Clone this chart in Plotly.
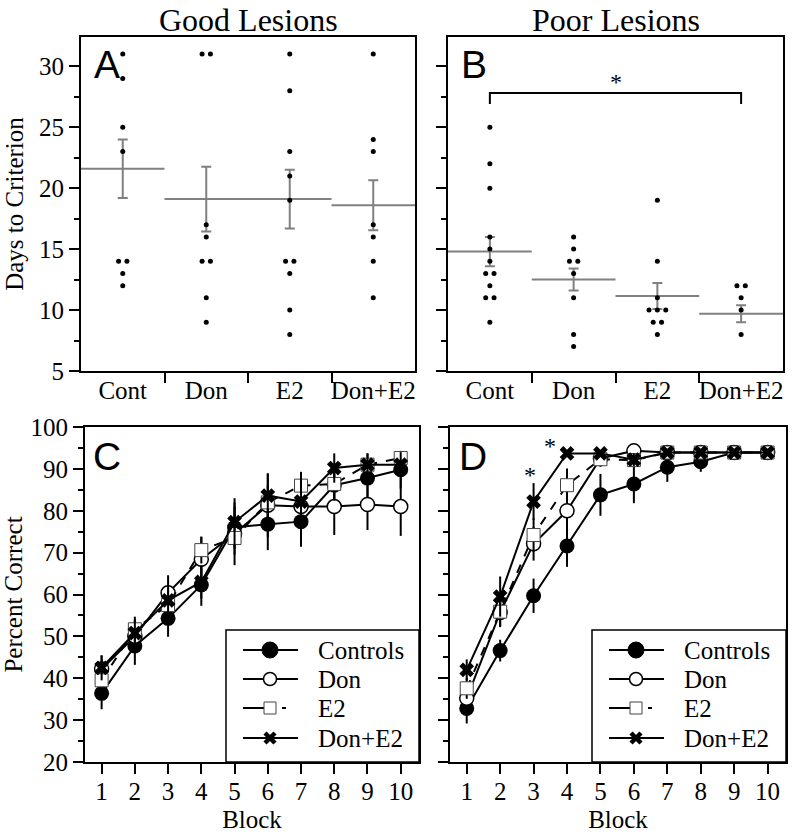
import plotly.graph_objects as go
from collections import Counter

# ---------------- data ----------------
groups = ["Cont", "Don", "E2", "Don+E2"]

good_cont = [31, 29, 25, 23, 14, 14, 13, 12]
good_don = [31, 31, 17, 16, 14, 14, 11, 9]
good_e2 = [31, 28, 23, 21, 19, 14, 14, 13, 10, 8]
good_done2 = [31, 24, 23, 17, 16, 14, 11]
good_mean = [21.6, 19.1, 19.1, 18.6]
good_sem = [2.4, 2.65, 2.4, 2.05]

poor_cont = [25, 22, 20, 16, 15, 14, 13, 13, 12, 11, 11, 9]
poor_don = [16, 15, 14, 14, 13, 11, 8, 7]
poor_e2 = [19, 14, 11, 10, 10, 10, 9, 9, 8]
poor_done2 = [12, 12, 11, 10, 8]
poor_mean = [14.8, 12.5, 11.15, 9.7]
poor_sem = [1.2, 0.9, 1.07, 0.7]

blocks = list(range(1, 11))
series_names = ["Controls", "Don", "E2", "Don+E2"]

c_ctrl = [36.4, 47.7, 54.3, 62.3, 76.0, 76.8, 77.4, 86.1, 87.8, 89.8]
c_ctrl_err = [3.8, 4.5, 4.4, 5.0, 5.0, 6.2, 6.0, 4.5, 4.5, 4.5]
c_don = [42.2, 50.0, 60.4, 68.4, 74.5, 81.3, 81.0, 81.0, 81.5, 81.0]
c_don_err = [3.2, 4.0, 4.2, 5.4, 7.5, 7.6, 6.2, 6.8, 6.1, 7.0]
c_e2 = [39.5, 51.7, 57.5, 70.6, 73.5, 82.0, 86.0, 86.4, 91.0, 92.6]
c_e2_err = [3.0, 3.0, 3.5, 3.2, 4.0, 4.0, 3.3, 4.0, 2.7, 1.5]
c_de = [42.5, 50.8, 58.6, 63.0, 77.3, 83.6, 82.2, 90.2, 91.0, 91.0]
c_de_err = [3.0, 3.0, 3.5, 4.0, 5.7, 5.3, 7.0, 3.5, 2.7, 3.0]

d_ctrl = [32.8, 46.6, 59.7, 71.6, 83.8, 86.4, 90.4, 91.7, 93.9, 93.9]
d_ctrl_err = [3.6, 2.6, 4.1, 5.0, 5.0, 4.6, 3.5, 2.4, 0.5, 0.5]
d_don = [35.2, 55.7, 72.1, 80.0, 92.5, 94.3, 93.9, 93.9, 93.9, 93.9]
d_don_err = [2.5, 3.5, 4.0, 5.5, 2.0, 1.0, 0.5, 0.5, 0.5, 0.5]
d_e2 = [37.6, 55.9, 74.2, 86.1, 92.3, 92.1, 93.9, 93.9, 93.9, 93.9]
d_e2_err = [2.5, 3.5, 4.0, 4.0, 1.5, 1.5, 0.5, 0.5, 0.5, 0.5]
d_de = [42.0, 59.5, 82.2, 93.7, 93.7, 92.2, 93.9, 93.9, 93.9, 93.9]
d_de_err = [2.5, 4.8, 4.4, 0.5, 0.5, 1.5, 0.3, 0.3, 0.3, 0.3]

# ---------------- page geometry ----------------
SERIF = "Liberation Serif"
SANS = "Liberation Sans"
GRAY = "#808080"
FW, FH = 800, 838


def px_x(p):
    return p / FW


def px_y(p):
    return 1 - p / FH


fig = go.Figure()


def jitter(idx, vals, step=0.1):
    totals = Counter(vals)
    seen = {}
    xs = []
    for v in vals:
        k = seen.get(v, 0)
        seen[v] = k + 1
        xs.append(idx + 1 + (k - (totals[v] - 1) / 2) * step)
    return xs


def add_scatter_panel(data_lists, means, sems, xa, ya):
    for i, vals in enumerate(data_lists):
        fig.add_trace(go.Scatter(
            x=[i + 0.5, i + 1.5], y=[means[i], means[i]], mode="lines",
            line=dict(color=GRAY, width=2), showlegend=False,
            xaxis=xa, yaxis=ya, hoverinfo="skip"))
    fig.add_trace(go.Scatter(
        x=[i + 1 for i in range(len(means))], y=means, mode="markers",
        marker=dict(color=GRAY, size=1),
        error_y=dict(type="data", array=sems, color=GRAY, thickness=2, width=5),
        showlegend=False, xaxis=xa, yaxis=ya, hoverinfo="skip"))
    for i, vals in enumerate(data_lists):
        fig.add_trace(go.Scatter(
            x=jitter(i, vals), y=vals, mode="markers",
            marker=dict(color="black", size=5), showlegend=False,
            xaxis=xa, yaxis=ya, hoverinfo="skip"))


add_scatter_panel([good_cont, good_don, good_e2, good_done2], good_mean, good_sem, "x", "y")
add_scatter_panel([poor_cont, poor_don, poor_e2, poor_done2], poor_mean, poor_sem, "x2", "y2")

styles = [
    dict(marker=dict(symbol="circle", size=15, color="black", line=dict(width=0)),
         line=dict(color="black", width=2)),
    dict(marker=dict(symbol="circle", size=14, color="white", line=dict(color="black", width=1.5)),
         line=dict(color="black", width=2)),
    dict(marker=dict(symbol="square", size=13, color="white", line=dict(color="#444444", width=1)),
         line=dict(color="black", width=2, dash="dash")),
    dict(marker=dict(symbol="x", size=13, color="black", line=dict(width=0)),
         line=dict(color="black", width=2)),
]


def add_line_panel(vals_list, err_list, xa, ya):
    for k in range(4):
        fig.add_trace(go.Scatter(
            x=blocks, y=vals_list[k], mode="lines+markers", name=series_names[k],
            marker=styles[k]["marker"], line=styles[k]["line"],
            error_y=dict(type="data", array=err_list[k], color="black", thickness=2, width=0),
            xaxis=xa, yaxis=ya, showlegend=False, hoverinfo="skip"))


add_line_panel([c_ctrl, c_don, c_e2, c_de], [c_ctrl_err, c_don_err, c_e2_err, c_de_err],
               "x3", "y3")
add_line_panel([d_ctrl, d_don, d_e2, d_de], [d_ctrl_err, d_don_err, d_e2_err, d_de_err],
               "x4", "y4")

# ---------------- axes ----------------
axis_common = dict(showline=True, linecolor="black", linewidth=2, mirror=True,
                   showgrid=False, zeroline=False, ticks="outside", tickcolor="black",
                   tickwidth=2, ticklen=10, automargin=False,
                   tickfont=dict(family=SERIF, size=25, color="black"))


def ax(**kw):
    d = dict(axis_common)
    d.update(kw)
    return d


domA = [px_x(81), px_x(415)]
domB = [px_x(448), px_x(783)]
domC = [px_x(85), px_x(419)]
domD = [px_x(450), px_x(786)]
domTop = [px_y(371), px_y(37)]
domBot = [px_y(762), px_y(427)]

cat_x = dict(range=[0.5, 4.5], tickmode="array", tickvals=[1, 2, 3, 4], ticktext=groups,
             ticks="", ticklabelstandoff=-4,
             minor=dict(tickmode="array", tickvals=[1.5, 2.5, 3.5], ticks="outside",
                        ticklen=10, tickwidth=2, tickcolor="black"))
days_y = dict(range=[5, 32.4], tickmode="linear", tick0=5, dtick=5,
              minor=dict(tick0=5, dtick=2.5, ticks="outside", ticklen=5, tickwidth=2,
                         tickcolor="black"))
blk_x = dict(range=[0.5, 10.55], tickmode="linear", tick0=1, dtick=1, ticklabelstandoff=-4)
pct_y = dict(range=[20, 100], tickmode="linear", tick0=20, dtick=10,
             minor=dict(tick0=20, dtick=5, ticks="outside", ticklen=5, tickwidth=2,
                        tickcolor="black"))

title_font = dict(family=SERIF, size=25, color="black")

fig.update_layout(
    xaxis=ax(**cat_x, domain=domA, anchor="y"),
    yaxis=ax(**days_y, domain=domTop, anchor="x",
             title=dict(text="Days to Criterion", font=title_font, standoff=8)),
    xaxis2=ax(**cat_x, domain=domB, anchor="y2"),
    yaxis2=ax(**days_y, domain=domTop, anchor="x2", showticklabels=False),
    xaxis3=ax(**blk_x, domain=domC, anchor="y3",
              title=dict(text="Block", font=title_font, standoff=6)),
    yaxis3=ax(**pct_y, domain=domBot, anchor="x3",
              title=dict(text="Percent Correct", font=title_font, standoff=8)),
    xaxis4=ax(**blk_x, domain=domD, anchor="y4",
              title=dict(text="Block", font=title_font, standoff=6)),
    yaxis4=ax(**pct_y, domain=domBot, anchor="x4", showticklabels=False),
)

# ---------------- annotations ----------------
ann = []
ann.append(dict(text="Good Lesions", x=(domA[0] + domA[1]) / 2, y=px_y(20), xref="paper",
                yref="paper", showarrow=False, font=dict(family=SERIF, size=32, color="black"),
                xanchor="center", yanchor="middle"))
ann.append(dict(text="Poor Lesions", x=(domB[0] + domB[1]) / 2, y=px_y(20), xref="paper",
                yref="paper", showarrow=False, font=dict(family=SERIF, size=32, color="black"),
                xanchor="center", yanchor="middle"))
for letter, xx, yy in [("A", 92, 64), ("B", 459, 64), ("C", 91, 456), ("D", 457, 456)]:
    ann.append(dict(text=letter, x=px_x(xx), y=px_y(yy), xref="paper", yref="paper",
                    showarrow=False, font=dict(family=SANS, size=39, color="black"),
                    xanchor="left", yanchor="middle"))

shapes = []
# significance bracket in B (Cont vs Don+E2)
sig_pair = (1, 4)
bracket_top, bracket_drop = 27.8, 26.9
shapes.append(dict(type="path", xref="x2", yref="y2",
                   path=f"M {sig_pair[0]} {bracket_drop} L {sig_pair[0]} {bracket_top} "
                        f"L {sig_pair[1]} {bracket_top} L {sig_pair[1]} {bracket_drop}",
                   line=dict(color="black", width=2)))
ann.append(dict(text="*", x=(sig_pair[0] + sig_pair[1]) / 2, y=bracket_top + 0.9,
                xref="x2", yref="y2", showarrow=False,
                font=dict(family=SERIF, size=24, color="black"), yanchor="middle"))

# stars in D
for bx, by in [(3 - 0.12, 88.5), (4 - 0.52, 95.5)]:
    ann.append(dict(text="*", x=bx, y=by, xref="x4", yref="y4", showarrow=False,
                    font=dict(family=SERIF, size=24, color="black"), yanchor="middle"))


# ---------------- legends (drawn as boxes inside panels C and D) ----------------
def draw_legend(left, right, top, bottom):
    shapes.append(dict(type="rect", xref="paper", yref="paper",
                       x0=px_x(left), x1=px_x(right), y0=px_y(bottom), y1=px_y(top),
                       line=dict(color="black", width=1.5), fillcolor="white", layer="above"))
    row_y = [top + 20, top + 49, top + 78, top + 108]
    lx0, lx1, mx, tx = left + 17, left + 72, left + 44, left + 90
    for k, name in enumerate(series_names):
        y = row_y[k]
        if k == 2:
            shapes.append(dict(type="line", xref="paper", yref="paper",
                               x0=px_x(lx0), x1=px_x(mx), y0=px_y(y), y1=px_y(y),
                               line=dict(color="black", width=2), layer="above"))
            shapes.append(dict(type="line", xref="paper", yref="paper",
                               x0=px_x(mx + 12), x1=px_x(mx + 16), y0=px_y(y), y1=px_y(y),
                               line=dict(color="black", width=2), layer="above"))
        else:
            shapes.append(dict(type="line", xref="paper", yref="paper",
                               x0=px_x(lx0), x1=px_x(lx1), y0=px_y(y), y1=px_y(y),
                               line=dict(color="black", width=2), layer="above"))
        if k == 0:
            r = 8
            shapes.append(dict(type="circle", xref="paper", yref="paper",
                               x0=px_x(mx - r), x1=px_x(mx + r), y0=px_y(y + r), y1=px_y(y - r),
                               fillcolor="black", line=dict(color="black", width=1),
                               layer="above"))
        elif k == 1:
            r = 6.5
            shapes.append(dict(type="circle", xref="paper", yref="paper",
                               x0=px_x(mx - r), x1=px_x(mx + r), y0=px_y(y + r), y1=px_y(y - r),
                               fillcolor="white", line=dict(color="black", width=1.5),
                               layer="above"))
        elif k == 2:
            r = 6
            shapes.append(dict(type="rect", xref="paper", yref="paper",
                               x0=px_x(mx - r), x1=px_x(mx + r), y0=px_y(y + r), y1=px_y(y - r),
                               fillcolor="white", line=dict(color="#444444", width=1),
                               layer="above"))
        else:
            r = 5
            for sgn in (1, -1):
                shapes.append(dict(type="line", xref="paper", yref="paper",
                                   x0=px_x(mx - r), x1=px_x(mx + r),
                                   y0=px_y(y - sgn * r), y1=px_y(y + sgn * r),
                                   line=dict(color="black", width=4.5), layer="above"))
        ann.append(dict(text=name, x=px_x(tx), y=px_y(y), xref="paper", yref="paper",
                        showarrow=False, xanchor="left", yanchor="middle",
                        font=dict(family=SERIF, size=25, color="black")))


draw_legend(226, 419, 630, 762)
draw_legend(592, 786, 630, 762)

fig.update_layout(annotations=ann, shapes=shapes, width=FW, height=FH,
                  margin=dict(l=0, r=0, t=0, b=0, autoexpand=False), plot_bgcolor="white",
                  paper_bgcolor="white", showlegend=False)

fig.write_html("out.html", config={"displayModeBar": False},
               post_script="document.body.style.margin='0px';")
